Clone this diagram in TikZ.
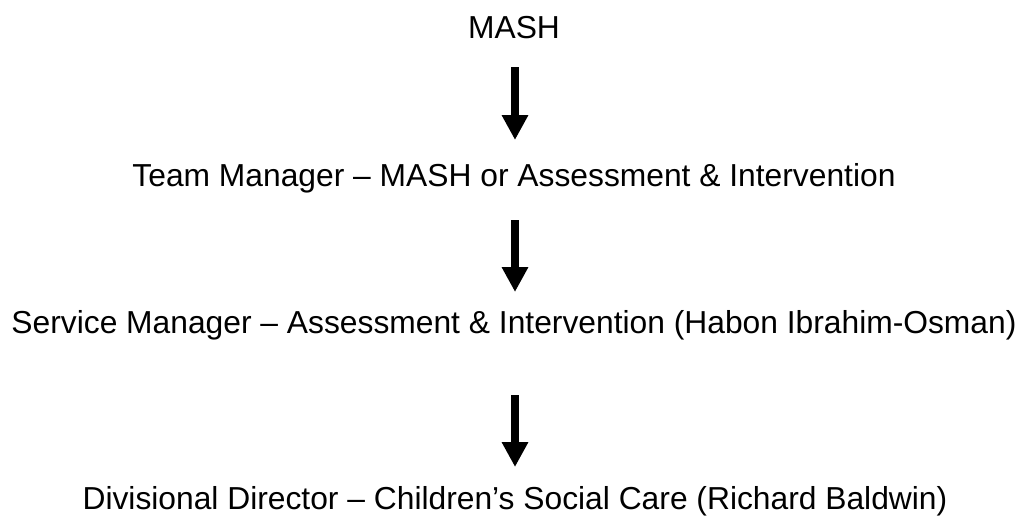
\documentclass[tikz,border=0pt]{standalone}
\usepackage{fontspec}
\setmainfont{Liberation Sans}
\usepackage{tikz}
\usetikzlibrary{arrows.meta}

\tikzset{
    lvl/.style={anchor=base, inner sep=0pt, font=\fontsize{22.6pt}{26pt}\selectfont},
    downarrow/.style={line width=0.2cm, -{Triangle[width=0.62cm, length=0.62cm]}}
}

\begin{document}
\begin{tikzpicture}[x=0.025cm, y=-0.025cm]
    \useasboundingbox (0, 0) rectangle (1023, 520);

    \node[lvl] (mash) at (514, 38) {MASH};
    \node[lvl] (team) at (514, 186) {Team Manager – MASH or Assessment \& Intervention};
    \node[lvl] (service) at (514, 333) {Service Manager – Assessment \& Intervention (Habon Ibrahim-Osman)};
    \node[lvl] (director) at (515, 509) {Divisional Director – Children’s Social Care (Richard Baldwin)};

    \coordinate (a1s) at (515, 67);
    \coordinate (a1e) at (515, 140);
    \coordinate (a2s) at (515, 220);
    \coordinate (a2e) at (515, 292);
    \coordinate (a3s) at (515, 395);
    \coordinate (a3e) at (515, 467);

    \draw[downarrow] (a1s) -- (a1e);
    \draw[downarrow] (a2s) -- (a2e);
    \draw[downarrow] (a3s) -- (a3e);
\end{tikzpicture}
\end{document}
